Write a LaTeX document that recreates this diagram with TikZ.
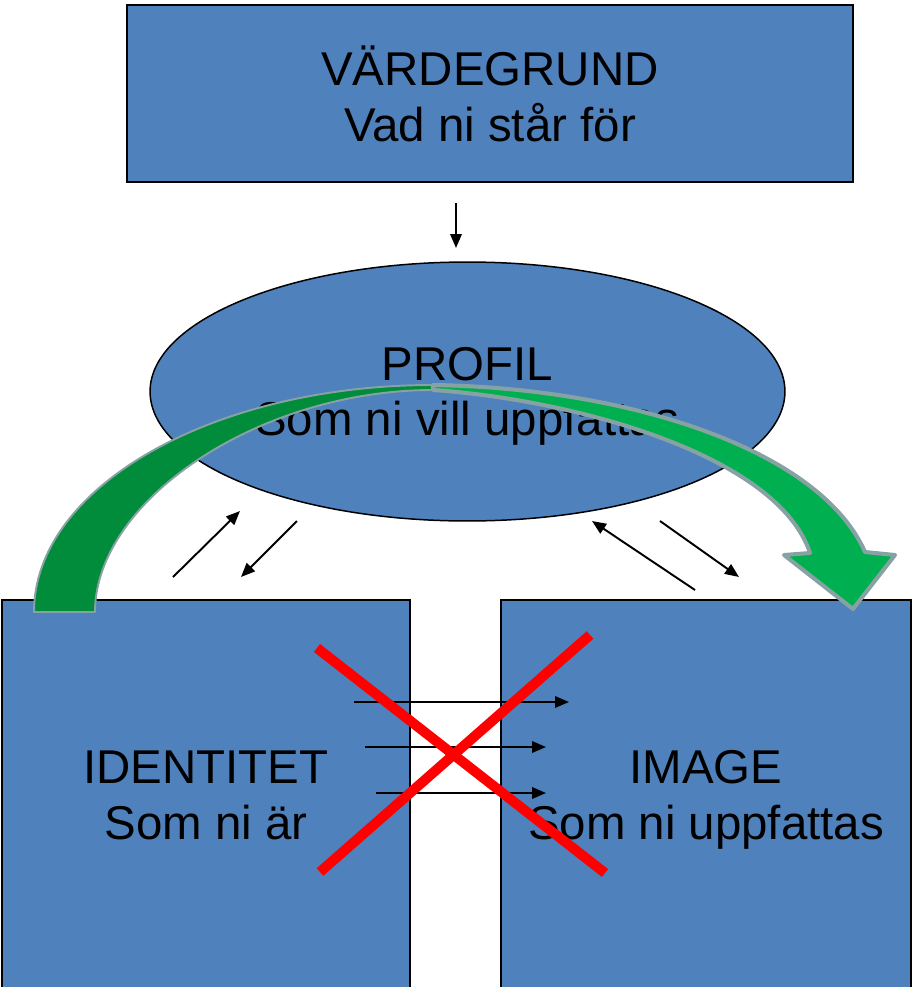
\documentclass[tikz,border=0pt]{standalone}
\usepackage{fontspec}
\setmainfont{Liberation Sans}
\usetikzlibrary{shapes.geometric,arrows.meta}
\definecolor{boxblue}{RGB}{79,129,189}
\definecolor{backgreen}{RGB}{0,140,58}
\definecolor{frontgreen}{RGB}{0,176,80}
\definecolor{rimgray}{RGB}{135,162,162}
\definecolor{crossred}{RGB}{255,0,0}
\begin{document}
\begin{tikzpicture}[x=0.02cm,y=-0.02cm]
  \tikzstyle{block}=[rectangle,draw=black,line width=0.85pt,fill=boxblue,inner sep=0pt,align=center,text depth=0pt,font=\fontsize{27}{31.5}\selectfont]
  \tikzstyle{profile}=[block,ellipse]
  \tikzstyle{edge}=[draw,line width=1.1pt,-{Triangle[length=0.28cm,width=0.23cm]}]
  \tikzstyle{cross}=[draw=crossred,line width=5.7pt]
  \useasboundingbox (0,0) rectangle (913,987);
  \clip (0,0) rectangle (913,987);
  % the four blocks
  \node [block,minimum width=14.52cm,minimum height=3.54cm] (vardegrund) at (490,93.5) {VÄRDEGRUND\\Vad ni står för};
  \node [block,minimum width=8.16cm,minimum height=7.8cm] (identitet) at (206,795) {IDENTITET\\Som ni är};
  \node [block,minimum width=8.2cm,minimum height=7.8cm] (image) at (706,795) {IMAGE\\Som ni uppfattas};
  \node [profile,minimum width=12.7cm,minimum height=5.18cm] (profil) at (467.5,391.5) {PROFIL\\Som ni vill uppfattas};
  % big curved arrow, back half then front half
  \begin{scope}
     \filldraw [fill=backgreen,draw=rimgray,line width=1.1pt,line join=round]
        (34,612) .. controls (34,487) and (213,385) .. (433,385) -- (433,390)
        .. controls (260,390) and (95,500) .. (95,612) -- cycle;
     \filldraw [fill=frontgreen,draw=rimgray,line width=2.3pt,line join=round]
        (433,385) .. controls (630,388) and (820,450) .. (865,552) -- (895,555) -- (853,609)
        -- (784,555) -- (810,553) .. controls (778,456) and (578,400) .. (433,390) -- cycle;
  \end{scope}
  % small arrows
  \coordinate (d1) at (456,203);  \coordinate (d2) at (456,248);
  \coordinate (la1) at (173,577); \coordinate (lb1) at (240,511);
  \coordinate (la2) at (297,521); \coordinate (lb2) at (241,577);
  \coordinate (ra1) at (695,590); \coordinate (rb1) at (592,521);
  \coordinate (ra2) at (660,521); \coordinate (rb2) at (739,577);
  \path[edge] (d1) -- (d2);
  \path[edge] (la1) -- (lb1);
  \path[edge] (la2) -- (lb2);
  \path[edge] (ra1) -- (rb1);
  \path[edge] (ra2) -- (rb2);
  % arrows across the gap
  \coordinate (m1) at (354,702); \coordinate (n1) at (569,702);
  \coordinate (m2) at (365,747); \coordinate (n2) at (546,747);
  \coordinate (m3) at (376,793); \coordinate (n3) at (546,793);
  \path[edge] (m1) -- (n1);
  \path[edge] (m2) -- (n2);
  \path[edge] (m3) -- (n3);
  % the cross
  \path[cross] (317,648) -- (605,873);
  \path[cross] (590,635) -- (320,872);
\end{tikzpicture}
\end{document}
